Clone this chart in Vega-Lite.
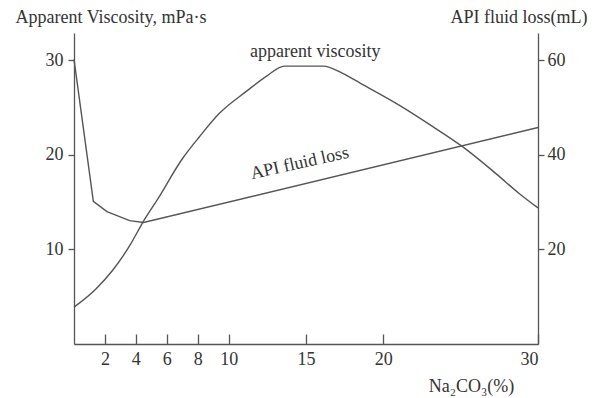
{
  "$schema": "https://vega.github.io/schema/vega-lite/v6.json",
  "width": 464,
  "height": 311,
  "autosize": {"type": "none"},
  "padding": {"left": 74, "top": 33, "right": 69, "bottom": 54},
  "background": "white",
  "config": {
    "view": {"stroke": null},
    "font": "Liberation Serif",
    "axis": {
      "grid": false,
      "domainColor": "#555555",
      "tickColor": "#555555",
      "labelColor": "#333333",
      "titleColor": "#333333",
      "labelFont": "Liberation Serif",
      "titleFont": "Liberation Serif",
      "labelFontSize": 18,
      "titleFontSize": 18,
      "titleFontWeight": "normal",
      "domainWidth": 1.3,
      "tickWidth": 1.3
    }
  },
  "datasets": {
    "viscosity": [
      {"x": 0, "y": 3.9}, {"x": 1.4, "y": 5.8}, {"x": 2.5, "y": 7.8}, {"x": 3.6, "y": 10.4},
      {"x": 4.46, "y": 12.9}, {"x": 5.4, "y": 15.3}, {"x": 7.05, "y": 19.7}, {"x": 8.1, "y": 21.9},
      {"x": 9.4, "y": 24.4}, {"x": 11.2, "y": 26.8}, {"x": 12.5, "y": 28.4}, {"x": 13.6, "y": 29.4},
      {"x": 16.1, "y": 29.4}, {"x": 17.4, "y": 28.6}, {"x": 18.5, "y": 27.6}, {"x": 21.1, "y": 25.2},
      {"x": 23.2, "y": 23.0}, {"x": 25.1, "y": 20.9}, {"x": 27.3, "y": 18.0}, {"x": 28.8, "y": 15.9},
      {"x": 30, "y": 14.4}
    ],
    "fluidloss": [
      {"x": 0, "y": 60.2}, {"x": 1.25, "y": 30.2}, {"x": 2.13, "y": 28.0}, {"x": 3.6, "y": 26.1},
      {"x": 4.5, "y": 25.7}, {"x": 30, "y": 45.8}
    ],
    "label1": [{"label": "apparent viscosity", "x": 15.6, "y": 30.85}],
    "label2": [{"label": "API fluid loss", "x": 14.6, "y": 19.1}]
  },
  "layer": [
    {
      "data": {"name": "viscosity"},
      "mark": {"type": "line", "color": "#555555", "strokeWidth": 1.4, "interpolate": "monotone"},
      "encoding": {
        "x": {
          "field": "x", "type": "quantitative",
          "scale": {"domain": [0, 30], "nice": false, "zero": false},
          "axis": {
            "values": [2, 4, 6, 8, 10, 15, 20, 30],
            "tickSize": -10,
            "labelPadding": 16,
            "title": "Na₂CO₃(%)",
            "titleX": 397, "titleY": 42,
            "titleAlign": "center", "titleBaseline": "middle", "titleAnchor": null
          }
        },
        "y": {
          "field": "y", "type": "quantitative",
          "scale": {"domain": [0, 32.9], "nice": false},
          "axis": {
            "orient": "left",
            "values": [10, 20, 30],
            "tickSize": 6,
            "labelPadding": 5,
            "title": "Apparent Viscosity, mPa·s",
            "titleAngle": 0,
            "titleX": -59, "titleY": -16,
            "titleAlign": "left", "titleBaseline": "middle", "titleAnchor": null
          }
        }
      }
    },
    {
      "data": {"name": "fluidloss"},
      "mark": {"type": "line", "color": "#555555", "strokeWidth": 1.4},
      "encoding": {
        "x": {"field": "x", "type": "quantitative"},
        "y": {
          "field": "y", "type": "quantitative",
          "scale": {"domain": [0, 65.8], "nice": false},
          "axis": {
            "orient": "right",
            "values": [20, 40, 60],
            "tickSize": 6,
            "labelPadding": 3,
            "title": "API fluid loss(mL)",
            "titleAngle": 0,
            "titleX": -88, "titleY": -16,
            "titleAlign": "left", "titleBaseline": "middle", "titleAnchor": null
          }
        }
      }
    },
    {
      "data": {"name": "label1"},
      "mark": {"type": "text", "font": "Liberation Serif", "fontSize": 18, "color": "#333333"},
      "encoding": {
        "x": {"field": "x", "type": "quantitative"},
        "y": {"field": "y", "type": "quantitative", "scale": {"domain": [0, 32.9], "nice": false}, "axis": null},
        "text": {"field": "label"}
      }
    },
    {
      "data": {"name": "label2"},
      "mark": {"type": "text", "font": "Liberation Serif", "fontSize": 18, "color": "#333333", "angle": -12.5},
      "encoding": {
        "x": {"field": "x", "type": "quantitative"},
        "y": {"field": "y", "type": "quantitative", "scale": {"domain": [0, 32.9], "nice": false}, "axis": null},
        "text": {"field": "label"}
      }
    }
  ],
  "resolve": {"scale": {"y": "independent"}}
}
